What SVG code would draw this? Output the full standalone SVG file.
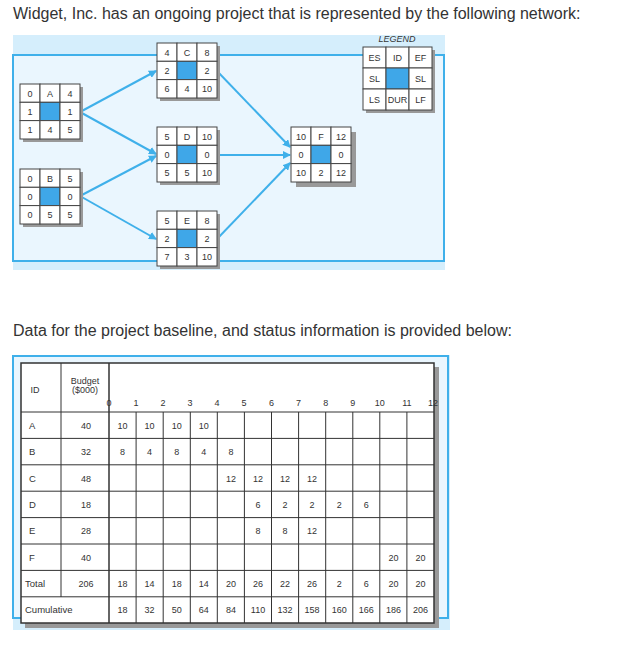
<svg xmlns="http://www.w3.org/2000/svg" width="617" height="646" viewBox="0 0 617 646">
<style>
text{font-family:"Liberation Sans",Arial,sans-serif;fill:#333}
.t{font-size:16px}
.c{font-size:9px;text-anchor:middle}
.cell{fill:#fff;stroke:#444;stroke-width:1}
.mid{fill:#3fa7e8;stroke:#444;stroke-width:1}
.sh{fill:#999}
.ln{stroke:#3fb0ea;stroke-width:2;fill:none}
.g{stroke:#333;stroke-width:1;fill:none}
</style>
<defs>
<marker id="ah" markerWidth="8" markerHeight="8" refX="7" refY="4" orient="auto" markerUnits="userSpaceOnUse"><path d="M0,0 L8,4 L0,8 z" fill="#3fb0ea"/></marker>
</defs>
<rect width="617" height="646" fill="#fff"/>
<text class="t" x="13" y="19">Widget, Inc. has an ongoing project that is represented by the following network:</text>
<rect x="13" y="35" width="432" height="235" fill="#d5eefc"/>
<rect x="13" y="55" width="431" height="206" fill="#eaf6fe" stroke="#3fb0ea" stroke-width="2"/>
<g id="connectors">
<line class="ln" x1="80" y1="112" x2="156" y2="71" marker-end="url(#ah)"/>
<line class="ln" x1="80" y1="112" x2="156" y2="154" marker-end="url(#ah)"/>
<line class="ln" x1="80" y1="196" x2="156" y2="156" marker-end="url(#ah)"/>
<line class="ln" x1="80" y1="196" x2="156" y2="239" marker-end="url(#ah)"/>
<line class="ln" x1="217" y1="71" x2="290" y2="147" marker-end="url(#ah)"/>
<line class="ln" x1="217" y1="155" x2="290" y2="155" stroke-width="3" marker-end="url(#ah)"/>
<line class="ln" x1="217" y1="239" x2="290" y2="163" marker-end="url(#ah)"/>
</g>
<g id="legend">
<text x="397" y="42" style="font-size:9px;font-style:italic;text-anchor:middle">LEGEND</text>
<rect class="sh" x="366" y="50" width="69" height="63"/>
<rect class="cell" x="363" y="47" width="23" height="21"/><rect class="cell" x="386" y="47" width="23" height="21"/><rect class="cell" x="409" y="47" width="23" height="21"/>
<rect class="cell" x="363" y="68" width="23" height="21"/><rect class="mid" x="386" y="68" width="23" height="21"/><rect class="cell" x="409" y="68" width="23" height="21"/>
<rect class="cell" x="363" y="89" width="23" height="21"/><rect class="cell" x="386" y="89" width="23" height="21"/><rect class="cell" x="409" y="89" width="23" height="21"/>
<text class="c" x="374.5" y="61">ES</text><text class="c" x="397.5" y="61">ID</text><text class="c" x="420.5" y="61">EF</text>
<text class="c" x="374.5" y="82">SL</text><text class="c" x="420.5" y="82">SL</text>
<text class="c" x="374.5" y="103">LS</text><text class="c" x="397.5" y="103">DUR</text><text class="c" x="420.5" y="103">LF</text>
</g>
<g id="nodes">
<g id="nA" transform="translate(20,84)">
<rect class="sh" x="3" y="3" width="60" height="55"/>
<rect class="cell" x="0" y="0" width="20" height="18.3"/><rect class="cell" x="20" y="0" width="20" height="18.3"/><rect class="cell" x="40" y="0" width="20" height="18.3"/>
<rect class="cell" x="0" y="18.3" width="20" height="18.3"/><rect class="mid" x="20" y="18.3" width="20" height="18.3"/><rect class="cell" x="40" y="18.3" width="20" height="18.3"/>
<rect class="cell" x="0" y="36.6" width="20" height="18.4"/><rect class="cell" x="20" y="36.6" width="20" height="18.4"/><rect class="cell" x="40" y="36.6" width="20" height="18.4"/>
<text class="c" x="10" y="12.5">0</text><text class="c" x="30" y="12.5">A</text><text class="c" x="50" y="12.5">4</text>
<text class="c" x="10" y="31">1</text><text class="c" x="50" y="31">1</text>
<text class="c" x="10" y="49">1</text><text class="c" x="30" y="49">4</text><text class="c" x="50" y="49">5</text>
</g>
<g id="nB" transform="translate(20,169)">
<rect class="sh" x="3" y="3" width="60" height="55"/>
<rect class="cell" x="0" y="0" width="20" height="18.3"/><rect class="cell" x="20" y="0" width="20" height="18.3"/><rect class="cell" x="40" y="0" width="20" height="18.3"/>
<rect class="cell" x="0" y="18.3" width="20" height="18.3"/><rect class="mid" x="20" y="18.3" width="20" height="18.3"/><rect class="cell" x="40" y="18.3" width="20" height="18.3"/>
<rect class="cell" x="0" y="36.6" width="20" height="18.4"/><rect class="cell" x="20" y="36.6" width="20" height="18.4"/><rect class="cell" x="40" y="36.6" width="20" height="18.4"/>
<text class="c" x="10" y="12.5">0</text><text class="c" x="30" y="12.5">B</text><text class="c" x="50" y="12.5">5</text>
<text class="c" x="10" y="31">0</text><text class="c" x="50" y="31">0</text>
<text class="c" x="10" y="49">0</text><text class="c" x="30" y="49">5</text><text class="c" x="50" y="49">5</text>
</g>
<g id="nC" transform="translate(157,43)">
<rect class="sh" x="3" y="3" width="60" height="55"/>
<rect class="cell" x="0" y="0" width="20" height="18.3"/><rect class="cell" x="20" y="0" width="20" height="18.3"/><rect class="cell" x="40" y="0" width="20" height="18.3"/>
<rect class="cell" x="0" y="18.3" width="20" height="18.3"/><rect class="mid" x="20" y="18.3" width="20" height="18.3"/><rect class="cell" x="40" y="18.3" width="20" height="18.3"/>
<rect class="cell" x="0" y="36.6" width="20" height="18.4"/><rect class="cell" x="20" y="36.6" width="20" height="18.4"/><rect class="cell" x="40" y="36.6" width="20" height="18.4"/>
<text class="c" x="10" y="12.5">4</text><text class="c" x="30" y="12.5">C</text><text class="c" x="50" y="12.5">8</text>
<text class="c" x="10" y="31">2</text><text class="c" x="50" y="31">2</text>
<text class="c" x="10" y="49">6</text><text class="c" x="30" y="49">4</text><text class="c" x="50" y="49">10</text>
</g>
<g id="nD" transform="translate(157,127)">
<rect class="sh" x="3" y="3" width="60" height="55"/>
<rect class="cell" x="0" y="0" width="20" height="18.3"/><rect class="cell" x="20" y="0" width="20" height="18.3"/><rect class="cell" x="40" y="0" width="20" height="18.3"/>
<rect class="cell" x="0" y="18.3" width="20" height="18.3"/><rect class="mid" x="20" y="18.3" width="20" height="18.3"/><rect class="cell" x="40" y="18.3" width="20" height="18.3"/>
<rect class="cell" x="0" y="36.6" width="20" height="18.4"/><rect class="cell" x="20" y="36.6" width="20" height="18.4"/><rect class="cell" x="40" y="36.6" width="20" height="18.4"/>
<text class="c" x="10" y="12.5">5</text><text class="c" x="30" y="12.5">D</text><text class="c" x="50" y="12.5">10</text>
<text class="c" x="10" y="31">0</text><text class="c" x="50" y="31">0</text>
<text class="c" x="10" y="49">5</text><text class="c" x="30" y="49">5</text><text class="c" x="50" y="49">10</text>
</g>
<g id="nE" transform="translate(157,211)">
<rect class="sh" x="3" y="3" width="60" height="55"/>
<rect class="cell" x="0" y="0" width="20" height="18.3"/><rect class="cell" x="20" y="0" width="20" height="18.3"/><rect class="cell" x="40" y="0" width="20" height="18.3"/>
<rect class="cell" x="0" y="18.3" width="20" height="18.3"/><rect class="mid" x="20" y="18.3" width="20" height="18.3"/><rect class="cell" x="40" y="18.3" width="20" height="18.3"/>
<rect class="cell" x="0" y="36.6" width="20" height="18.4"/><rect class="cell" x="20" y="36.6" width="20" height="18.4"/><rect class="cell" x="40" y="36.6" width="20" height="18.4"/>
<text class="c" x="10" y="12.5">5</text><text class="c" x="30" y="12.5">E</text><text class="c" x="50" y="12.5">8</text>
<text class="c" x="10" y="31">2</text><text class="c" x="50" y="31">2</text>
<text class="c" x="10" y="49">7</text><text class="c" x="30" y="49">3</text><text class="c" x="50" y="49">10</text>
</g>
<g id="nF" transform="translate(291,127)">
<rect class="sh" x="5" y="5" width="60" height="55"/>
<rect class="cell" x="0" y="0" width="20" height="18.3"/><rect class="cell" x="20" y="0" width="20" height="18.3"/><rect class="cell" x="40" y="0" width="20" height="18.3"/>
<rect class="cell" x="0" y="18.3" width="20" height="18.3"/><rect class="mid" x="20" y="18.3" width="20" height="18.3"/><rect class="cell" x="40" y="18.3" width="20" height="18.3"/>
<rect class="cell" x="0" y="36.6" width="20" height="18.4"/><rect class="cell" x="20" y="36.6" width="20" height="18.4"/><rect class="cell" x="40" y="36.6" width="20" height="18.4"/>
<text class="c" x="10" y="12.5">10</text><text class="c" x="30" y="12.5">F</text><text class="c" x="50" y="12.5">12</text>
<text class="c" x="10" y="31">0</text><text class="c" x="50" y="31">0</text>
<text class="c" x="10" y="49">10</text><text class="c" x="30" y="49">2</text><text class="c" x="50" y="49">12</text>
</g>
</g>
<text class="t" x="13" y="336">Data for the project baseline, and status information is provided below:</text>
<rect x="13" y="355" width="437" height="275" fill="#d5eefc"/>
<rect x="13" y="356" width="435" height="262" fill="#eaf6fe" stroke="#3fb0ea" stroke-width="2"/>
<g id="table">
<rect class="sh" x="25" y="367" width="414" height="261"/>
<rect x="21" y="363" width="413" height="260" fill="#fff" stroke="#333" stroke-width="1.5"/>
<g class="g">
<line x1="61" y1="363" x2="61" y2="597"/>
<line x1="109" y1="363" x2="109" y2="623" stroke-width="1.5"/>
<path d="M21 412H434M21 438.4H434M21 464.8H434M21 491.2H434M21 517.6H434M21 544H434M21 570.4H434M21 596.8H434"/>
<path d="M136.1 412V623M163.2 412V623M190.3 412V623M217.3 412V623M244.4 412V623M271.5 412V623M298.6 412V623M325.7 412V623M352.8 412V623M379.8 412V623M406.9 412V623"/>
</g>
<g font-size="9.5">
<text class="c" x="35" y="393">ID</text>
<text class="c" x="85" y="384">Budget</text><text class="c" x="85" y="393">($000)</text>
<text class="c" x="109" y="406">0</text><text class="c" x="136" y="406">1</text><text class="c" x="163" y="406">2</text><text class="c" x="190" y="406">3</text><text class="c" x="217" y="406">4</text><text class="c" x="244" y="406">5</text><text class="c" x="271.5" y="406">6</text><text class="c" x="298.6" y="406">7</text><text class="c" x="325.7" y="406">8</text><text class="c" x="352.8" y="406">9</text><text class="c" x="379.8" y="406">10</text><text class="c" x="406.9" y="406">11</text><text class="c" x="433" y="406">12</text>
<text x="29" y="429">A</text><text x="29" y="455">B</text><text x="29" y="482">C</text><text x="29" y="508">D</text><text x="29" y="534">E</text><text x="29" y="561">F</text><text x="25" y="587">Total</text><text x="25" y="613">Cumulative</text>
<text class="c" x="86" y="429">40</text><text class="c" x="86" y="455">32</text><text class="c" x="86" y="482">48</text><text class="c" x="86" y="508">18</text><text class="c" x="86" y="534">28</text><text class="c" x="86" y="561">40</text><text class="c" x="86" y="587">206</text>
<text class="c" x="122.5" y="429">10</text><text class="c" x="149.6" y="429">10</text><text class="c" x="176.7" y="429">10</text><text class="c" x="203.8" y="429">10</text>
<text class="c" x="122.5" y="455">8</text><text class="c" x="149.6" y="455">4</text><text class="c" x="176.7" y="455">8</text><text class="c" x="203.8" y="455">4</text><text class="c" x="230.9" y="455">8</text>
<text class="c" x="230.9" y="482">12</text><text class="c" x="258" y="482">12</text><text class="c" x="285" y="482">12</text><text class="c" x="312.1" y="482">12</text>
<text class="c" x="258" y="508">6</text><text class="c" x="285" y="508">2</text><text class="c" x="312.1" y="508">2</text><text class="c" x="339.2" y="508">2</text><text class="c" x="366.3" y="508">6</text>
<text class="c" x="258" y="534">8</text><text class="c" x="285" y="534">8</text><text class="c" x="312.1" y="534">12</text>
<text class="c" x="393.4" y="561">20</text><text class="c" x="420.5" y="561">20</text>
<text class="c" x="122.5" y="587">18</text><text class="c" x="149.6" y="587">14</text><text class="c" x="176.7" y="587">18</text><text class="c" x="203.8" y="587">14</text><text class="c" x="230.9" y="587">20</text><text class="c" x="258" y="587">26</text><text class="c" x="285" y="587">22</text><text class="c" x="312.1" y="587">26</text><text class="c" x="339.2" y="587">2</text><text class="c" x="366.3" y="587">6</text><text class="c" x="393.4" y="587">20</text><text class="c" x="420.5" y="587">20</text>
<text class="c" x="122.5" y="613">18</text><text class="c" x="149.6" y="613">32</text><text class="c" x="176.7" y="613">50</text><text class="c" x="203.8" y="613">64</text><text class="c" x="230.9" y="613">84</text><text class="c" x="258" y="613">110</text><text class="c" x="285" y="613">132</text><text class="c" x="312.1" y="613">158</text><text class="c" x="339.2" y="613">160</text><text class="c" x="366.3" y="613">166</text><text class="c" x="393.4" y="613">186</text><text class="c" x="420.5" y="613">206</text>
</g>
</g>
</svg>
